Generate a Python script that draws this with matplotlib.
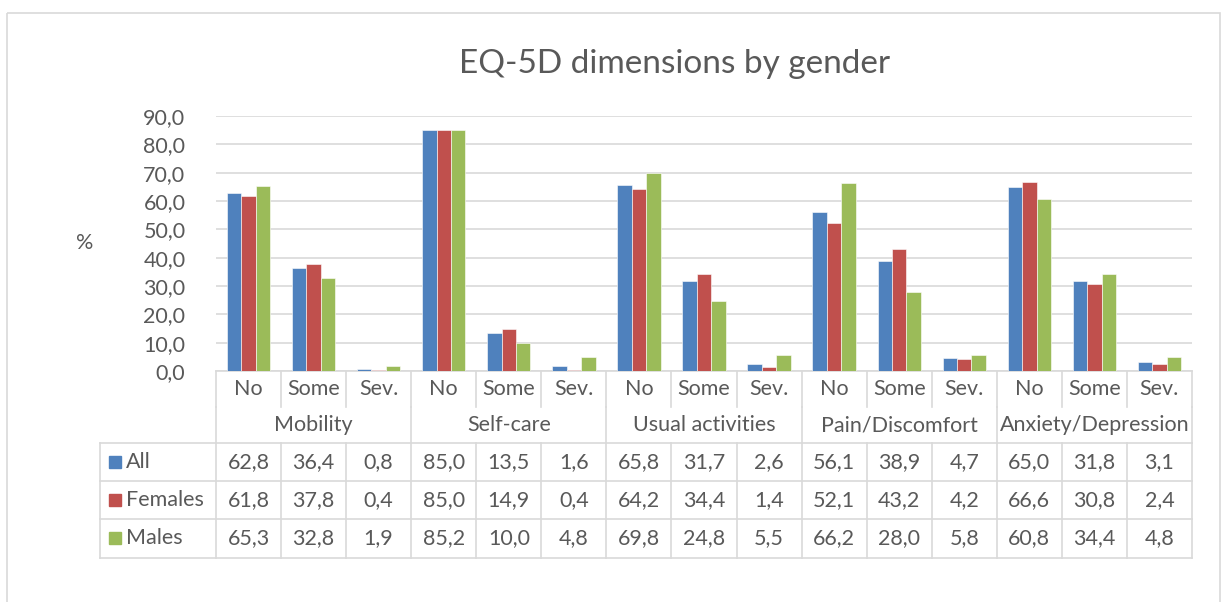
import numpy as np
import matplotlib.pyplot as plt
from matplotlib.patches import Rectangle

plt.rcParams['font.family'] = ['Lato', 'DejaVu Sans']

# data
dimensions = ['Mobility', 'Self-care', 'Usual activities', 'Pain/Discomfort', 'Anxiety/Depression']
levels = ['No', 'Some', 'Sev.']
series = ['All', 'Females', 'Males']
all_vals = [62.8, 36.4, 0.8, 85.0, 13.5, 1.6, 65.8, 31.7, 2.6, 56.1, 38.9, 4.7, 65.0, 31.8, 3.1]
female_vals = [61.8, 37.8, 0.4, 85.0, 14.9, 0.4, 64.2, 34.4, 1.4, 52.1, 43.2, 4.2, 66.6, 30.8, 2.4]
male_vals = [65.3, 32.8, 1.9, 85.2, 10.0, 4.8, 69.8, 24.8, 5.5, 66.2, 28.0, 5.8, 60.8, 34.4, 4.8]
colors = ['#4F81BD', '#C0504D', '#9BBB59']

txt = '#595959'
grid_c = '#d9d9d9'
fs = 15.5
W, H = 1230, 602
fig = plt.figure(figsize=(W / 100, H / 100), dpi=100)

# overlay in pixel coords for border + table
ax_t = fig.add_axes([0, 0, 1, 1])
ax_t.set_xlim(0, W)
ax_t.set_ylim(H, 0)
ax_t.axis('off')
ax_t.add_patch(Rectangle((7, 13), 1213, 600, fill=False, ec=grid_c, lw=1.2))

x0, x1 = 216, 1192
y_top, y_zero = 116, 371
ax = fig.add_axes([x0 / W, 1 - y_zero / H, (x1 - x0) / W, (y_zero - y_top) / H])

n = len(all_vals)
x = np.arange(n)
bw = 0.222
for k, vals in enumerate([all_vals, female_vals, male_vals]):
    ax.bar(x + (k - 1) * bw, vals, bw, color=colors[k], edgecolor='white', linewidth=0.4, zorder=3)

ax.set_xlim(-0.5, n - 0.5)
ax.set_ylim(0, 90)
ax.set_yticks(np.arange(0, 91, 10))
ax.set_yticklabels([f'{v:.1f}'.replace('.', ',') for v in np.arange(0, 91, 10)], fontsize=fs, color=txt)
ax.set_xticks([])
ax.grid(axis='y', color=grid_c, lw=1.2, zorder=0)
for s in ['top', 'right', 'left']:
    ax.spines[s].set_visible(False)
ax.spines['bottom'].set_color(grid_c)
ax.spines['bottom'].set_linewidth(1.2)
ax.tick_params(axis='y', length=0, pad=22)
ax.tick_params(axis='x', length=0)

fig.text(675 / W, 1 - 64 / H, 'EQ-5D dimensions by gender', fontsize=24, color=txt, ha='center', va='center')
fig.text(85 / W, 1 - 243 / H, '%', fontsize=fs, color=txt, ha='center', va='center')

# data table
cw = (x1 - x0) / n
rows_y = [371, 407, 443, 481, 519, 558]
lx = 100
lk = dict(color=grid_c, lw=1.2)
# category row separators
for i in range(n + 1):
    ax_t.plot([x0 + i * cw] * 2, [rows_y[0], rows_y[1]], **lk)
# group row separators
for g in range(len(dimensions) + 1):
    ax_t.plot([x0 + g * 3 * cw] * 2, [rows_y[1], rows_y[2]], **lk)
# data rows
for r in range(2, 6):
    ax_t.plot([lx, x1], [rows_y[r]] * 2, **lk)
for i in range(n + 1):
    ax_t.plot([x0 + i * cw] * 2, [rows_y[2], rows_y[5]], **lk)
ax_t.plot([lx, lx], [rows_y[2], rows_y[5]], **lk)

for i in range(n):
    ax_t.text(x0 + (i + 0.5) * cw, (rows_y[0] + rows_y[1]) / 2, levels[i % 3],
              fontsize=fs, color=txt, ha='center', va='center')
for g, name in enumerate(dimensions):
    ax_t.text(x0 + (g * 3 + 1.5) * cw, (rows_y[1] + rows_y[2]) / 2, name,
              fontsize=fs, color=txt, ha='center', va='center')
for r, (name, vals) in enumerate(zip(series, [all_vals, female_vals, male_vals])):
    yc = (rows_y[r + 2] + rows_y[r + 3]) / 2
    ax_t.add_patch(Rectangle((109, yc - 6.5), 12, 12, color=colors[r]))
    ax_t.text(126, yc, name, fontsize=fs, color=txt, ha='left', va='center')
    for i, v in enumerate(vals):
        ax_t.text(x0 + (i + 0.5) * cw, yc, f'{v:.1f}'.replace('.', ','),
                  fontsize=fs, color=txt, ha='center', va='center')

fig.savefig('out.png', dpi=100)
